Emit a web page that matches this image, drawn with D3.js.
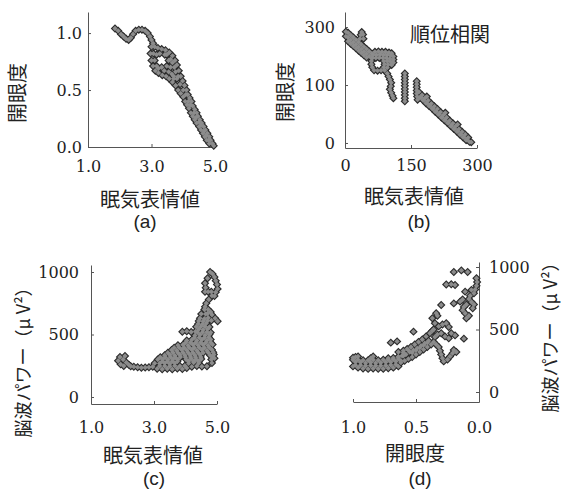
<!DOCTYPE html>
<html>
<head>
<meta charset="utf-8">
<script src="https://cdn.jsdelivr.net/npm/d3@7"></script>
<style>
  body { margin: 0; background: #fff; }
  svg text { fill: #222; }
  .tick text { font-family: "DejaVu Serif", serif; font-size: 16px; }
  .jp { font-family: "Noto Sans CJK JP", sans-serif; font-size: 20px; }
  .cap { font-family: "Liberation Sans", Arial, sans-serif; font-size: 19px; }
  .axis path, .axis line { stroke: #555; }
</style>
</head>
<body>
<svg id="chart" width="564" height="494"></svg>
<script>
// (a) 眠気表情値 vs 開眼度
const aPoints = [
  [1.85,1.04],[1.95,1.02],[2.04,0.99],[2.12,0.97],[2.2,0.95],[2.28,0.94],[2.35,0.96],[2.42,0.99],
  [2.5,1.02],[2.6,1.03],[2.7,1.03],[2.8,1.02],[2.88,1.0],[2.95,0.97],[3.0,0.94],[3.05,0.91],
  [3.0,0.88],[3.1,0.88],[3.2,0.87],[3.32,0.86],[3.44,0.85],[3.56,0.83],[3.66,0.8],[3.74,0.76],
  [3.8,0.72],[3.86,0.67],[2.97,0.82],[3.0,0.76],[3.05,0.71],[3.12,0.67],[3.22,0.65],[3.34,0.63],
  [3.46,0.62],[3.1,0.76],[3.16,0.81],[3.48,0.81],[3.16,0.71],[3.48,0.71],[3.32,0.7],[3.54,0.76],
  [3.6,0.7],[3.72,0.7],[3.64,0.64],
  [3.06,0.82],[3.26,0.82],[3.42,0.81],[3.6,0.77],[3.66,0.74],[3.22,0.69],[3.4,0.67],[3.54,0.66],
  [3.76,0.66],[3.7,0.6],[3.84,0.62],
  [3.92,0.62],[3.98,0.58],[4.04,0.54],[4.1,0.5],[4.14,0.46],[4.2,0.43],[4.26,0.4],[4.3,0.36],
  [4.36,0.33],[4.42,0.3],[4.46,0.27],[4.52,0.24],[4.58,0.21],[4.64,0.18],[4.7,0.15],[4.76,0.12],
  [4.82,0.09],[4.86,0.06],[4.92,0.03],[4.96,0.01],
  [3.56,0.6],[3.66,0.57],[3.76,0.54],[3.84,0.5],[3.92,0.47],[4.0,0.44],[4.06,0.4],[4.12,0.37],
  [4.18,0.34],[4.24,0.3],[4.3,0.27],[4.36,0.24],[4.42,0.21],[4.5,0.18],[4.56,0.15],[4.62,0.12],
  [4.68,0.09],[4.74,0.06],[4.82,0.03],
  [3.8,0.6],[4.0,0.5],[4.16,0.4],[4.34,0.3],[4.5,0.22],[4.66,0.14],[4.8,0.06],
  [3.7,0.62],[3.9,0.55],[4.08,0.46],[4.22,0.37],[4.4,0.26],[4.56,0.19],[4.72,0.1]
];

// (b) 順位相関
const bPoints = [
  [2,288],[2,276],[7,285],[7,273],[7,263],[13,279],[13,267],[13,257],[19,273],[19,261],[19,251],
  [25,267],[25,255],[25,245],[31,261],[31,249],[31,239],[37,255],[37,243],[37,233],[43,249],
  [43,237],[43,227],[49,243],[49,231],[49,221],[55,237],[55,225],[61,231],[61,219],
  [34,270],[36,280],[38,287],[41,281],[42,270],
  [68,236],[76,237],[84,236],[92,236],[100,234],[106,232],
  [64,228],[72,228],[80,229],[88,228],[96,228],[104,226],[110,224],
  [62,220],[70,220],[78,220],[86,220],[94,220],[102,218],[110,216],
  [60,212],[88,212],[96,212],[104,210],[110,208],
  [60,204],[90,204],[98,203],[106,202],
  [62,196],[88,196],[96,195],
  [66,188],[74,187],[82,188],[90,188],
  [96,180],[99,172],[102,164],[105,156],[104,147],[102,139],[105,130],[108,122],[110,116],
  [136,108],[136,116],[136,124],[136,132],[136,140],[136,148],[136,156],[136,164],[136,172],[136,180],
  [163,160],[163,152],[163,144],[163,136],[163,128],[164,120],[165,112],
  [168,132],[170,118],[175,124],[177,111],[182,117],[184,103],[189,110],[191,96],[196,102],[198,89],
  [203,95],[205,81],[210,88],[212,74],[217,80],[219,66],[224,73],[226,59],[231,66],[233,52],
  [238,58],[240,44],[245,51],[247,37],[252,44],[254,30],[259,36],[261,22],[266,29],[268,15],
  [273,22],[275,8],[280,14],[283,3],[287,2],[186,120],[228,78],[256,48],
  [172,118],[179,110],[186,103],[193,96],[200,88],[207,81],[214,74],[221,66],[228,59],[235,52],
  [242,44],[249,37],[256,30],[263,22],[270,15],[277,8]
];

// (c) 眠気表情値 vs 脳波パワー
const cPoints = [
  [1.86,290],[1.92,320],[1.94,262],[2.02,300],[2.08,328],[2.04,248],[2.12,276],[2.2,258],[2.26,246],
  [2.36,242],[2.48,238],[2.6,234],[2.72,236],[2.84,238],[2.96,242],
  [3.1,226],[3.26,222],[3.42,226],[3.58,222],[3.74,228],[3.9,224],[4.04,232],
  [4.2,242],[4.36,248],[4.52,244],[4.68,246],
  [3.02,270],[3.18,268],[3.34,272],[3.5,266],[3.66,272],[4.1,270],[4.26,276],[4.42,272],[4.84,272],
  [3.12,300],[3.28,304],[3.44,298],[3.6,304],[3.76,300],[4.02,300],[4.18,306],[4.34,300],[4.5,304],
  [4.82,300],[4.92,310],
  [3.34,334],[3.5,338],[3.66,332],[3.82,338],[3.98,334],[4.14,338],[4.3,334],[4.46,338],[4.78,334],[4.9,340],
  [3.56,376],[3.72,372],[3.88,378],[4.04,374],[4.2,378],[4.36,372],[4.52,378],[4.68,372],[4.84,378],
  [3.76,414],[3.92,418],[4.08,412],[4.24,418],[4.4,414],[4.56,418],[4.72,412],[4.86,420],
  [4.04,452],[4.2,458],[4.36,452],[4.52,458],[4.68,452],[4.8,460],
  [3.9,522],[4.04,526],[4.18,520],[4.32,524],
  [4.3,492],[4.46,498],[4.62,494],[4.76,500],
  [4.42,542],[4.56,538],[4.7,544],
  [4.4,585],[4.54,582],[4.66,590],
  [4.46,630],[4.6,626],[4.72,634],[4.84,658],[4.94,630],[5.02,606],
  [4.6,700],[4.72,700],[4.8,680],[4.66,750],[4.62,722],[4.74,780],[4.84,810],[4.92,808],
  [4.62,842],[4.72,842],[4.82,842],[4.64,875],[4.62,910],[4.7,950],[4.78,1000],[4.86,985],
  [4.92,960],[4.96,930],[5.0,900],[5.02,865],[4.96,838],
  [3.18,248],[3.34,248],[3.5,246],[3.66,250],[3.82,248],[3.98,250],
  [3.26,285],[3.42,284],[3.58,286],[3.74,284],[4.1,288],[4.26,286],[4.42,288],
  [3.2,318],[3.36,318],[3.52,320],[3.68,316],[3.84,320],[4.0,318],[4.16,320],[4.32,318],[4.48,320],[4.86,318],
  [3.44,355],[3.6,356],[3.76,354],[3.92,356],[4.08,356],[4.24,354],[4.4,356],[4.56,354],[4.72,356],[4.88,358],
  [3.64,395],[3.8,396],[3.96,394],[4.12,396],[4.28,394],[4.44,396],[4.6,394],[4.76,396],
  [4.0,435],[4.16,436],[4.32,434],[4.48,436],[4.64,434],[4.8,436],
  [4.28,475],[4.44,476],[4.6,474],[4.74,478],
  [4.38,518],[4.54,518],[4.68,520],[4.8,516],
  [4.34,562],[4.48,562],[4.62,564],[4.76,560],
  [4.42,608],[4.56,606],[4.7,610],[4.82,612],
  [4.5,665],[4.64,664],[4.7,668]
];

// (d) 開眼度 vs 脳波パワー
const dPoints = [
  [1.0,205],[0.96,195],[0.92,188],[0.88,185],[0.84,188],[0.8,186],[0.76,186],[0.72,190],[0.68,195],[0.64,205],
  [0.98,240],[0.94,238],[0.9,232],[0.86,236],[0.82,232],[0.78,234],[0.74,238],[0.7,240],[0.66,245],[0.62,250],
  [1.0,275],[0.96,285],[0.86,270],[0.84,285],[0.72,270],[0.68,272],[0.64,282],[0.6,290],[0.98,280],
  [0.98,215],[0.94,214],[0.9,210],[0.86,212],[0.82,210],[0.78,210],[0.74,212],[0.7,216],[0.66,220],
  [1.0,258],[0.96,258],[0.92,255],[0.88,255],[0.84,258],[0.8,255],[0.76,258],[0.72,258],[0.68,262],[0.64,265],
  [0.62,235],[0.59,250],[0.56,265],[0.53,280],[0.5,300],[0.47,320],[0.44,340],[0.41,360],[0.38,380],
  [0.64,280],[0.61,290],[0.58,300],[0.55,320],[0.52,335],[0.49,350],[0.46,370],[0.43,390],[0.4,410],
  [0.64,320],[0.6,330],[0.57,345],[0.54,360],[0.51,380],[0.48,400],[0.45,420],[0.42,445],[0.39,470],[0.37,490],
  [0.6,315],[0.56,335],[0.53,315],[0.5,335],[0.47,355],[0.44,375],[0.41,395],
  [0.36,400],[0.34,380],[0.32,360],[0.31,330],[0.3,300],[0.29,270],[0.28,245],[0.25,260],[0.23,285],
  [0.21,310],[0.2,336],[0.18,320],[0.35,440],[0.33,460],[0.3,470],[0.27,445],[0.24,430],[0.22,470],
  [0.19,453],[0.12,427],[0.36,500],[0.35,550],[0.32,525],[0.29,540],[0.26,550],[0.24,520],[0.37,590],
  [0.34,630],[0.33,610],
  [0.3,696],[0.26,860],[0.22,862],[0.19,856],[0.2,960],[0.14,973],[0.09,960],[0.2,709],[0.15,723],
  [0.13,740],[0.11,803],[0.06,816],[0.02,910],[0.015,880],[0.02,850],[0.03,820],[0.04,790],[0.07,770],
  [0.08,745],[0.06,720],[0.1,700],[0.12,680],[0.13,655],[0.11,630],[0.08,610],[0.1,590],[0.04,700],[0.05,670],
  [0.52,483],[0.7,395],[0.65,405]
];

const aXTicks = [1, 3, 5], aXLabels = ["1.0", "3.0", "5.0"];
const aYTicks = [0, 0.5, 1], aYLabels = ["0.0", "0.5", "1.0"];
const bXTicks = [0, 150, 300], bXLabels = ["0", "150", "300"];
const bYTicks = [0, 150, 300], bYLabels = ["0", "100", "300"];
const cXTicks = [1, 3, 5], cXLabels = ["1.0", "3.0", "5.0"];
const cYTicks = [0, 500, 1000], cYLabels = ["0", "500", "1000"];
const dXTicks = [1, 0.5, 0], dXLabels = ["1.0", "0.5", "0.0"];
const dYTicks = [0, 500, 1000], dYLabels = ["0", "500", "1000"];

const svg = d3.select('#chart');

const panels = [
  { pts: aPoints, xd: [1, 5], xr: [88, 215], yd: [0, 1.185], yr: [147, 12],
    xt: aXTicks, xl: aXLabels, yt: aYTicks, yl: aYLabels, side: 'left', xPad: 14, yPad: 6 },
  { pts: bPoints, xd: [0, 300], xr: [345, 477], yd: [-13, 339], yr: [148, 12],
    xt: bXTicks, xl: bXLabels, yt: bYTicks, yl: bYLabels, side: 'left', xPad: 12, yPad: 10 },
  { pts: cPoints, xd: [1, 5], xr: [91, 217], yd: [-56, 1056], yr: [404, 265],
    xt: cXTicks, xl: cXLabels, yt: cYTicks, yl: cYLabels, side: 'left', xPad: 18, yPad: 12 },
  { pts: dPoints, xd: [1, 0], xr: [353, 479], yd: [-80, 1040], yr: [402, 262],
    xt: dXTicks, xl: dXLabels, yt: dYTicks, yl: dYLabels, side: 'right', xPad: 20, yPad: 10 }
];

const outer = d3.symbol().type(d3.symbolSquare).size(36);
const inner = d3.symbol().type(d3.symbolSquare).size(14);

panels.forEach(p => {
  let x = d3.scaleLinear().domain(p.xd).range(p.xr);
  let y = d3.scaleLinear().domain(p.yd).range(p.yr);

  let xAxis = d3.axisBottom(x)
                .tickValues(p.xt)
                .tickFormat((d, i) => p.xl[i])
                .tickSizeInner(-3).tickSizeOuter(0)
                .tickPadding(p.xPad);
  let yAxis = (p.side === 'left' ? d3.axisLeft(y) : d3.axisRight(y))
                .tickValues(p.yt)
                .tickFormat((d, i) => p.yl[i])
                .tickSizeInner(-3).tickSizeOuter(0)
                .tickPadding(p.yPad);

  svg.append('g')
     .attr('class', 'axis')
     .attr('transform', `translate(0,${p.yr[0]})`)
     .call(xAxis);
  svg.append('g')
     .attr('class', 'axis')
     .attr('transform', `translate(${p.side === 'left' ? p.xr[0] : p.xr[1]},0)`)
     .call(yAxis);

  // dark outline layer, then grey fill layer
  let g = svg.append('g');
  g.selectAll('.o').data(p.pts).join('path')
   .attr('d', outer)
   .attr('fill', '#2a2a2a')
   .attr('transform', d => `translate(${x(d[0])},${y(d[1])}) rotate(45)`);
  g.selectAll('.i').data(p.pts).join('path')
   .attr('d', inner)
   .attr('fill', '#8c8c8c')
   .attr('transform', d => `translate(${x(d[0])},${y(d[1])}) rotate(45)`);
});

// Texts
function label(txt, cx, cy, cls, rot, size) {
  let t = svg.append('text')
     .attr('class', cls)
     .attr('text-anchor', 'middle')
     .attr('dominant-baseline', 'central')
     .attr('transform', `translate(${cx},${cy})` + (rot ? ` rotate(${rot})` : ''))
     .text(txt);
  if (size) t.style('font-size', size);
}

label('眠気表情値', 150, 198, 'jp');
label('眠気表情値', 414, 195, 'jp');
label('眠気表情値', 153, 454, 'jp');
label('開眼度', 415, 452, 'jp');
label('開眼度', 16, 93, 'jp', -90);
label('開眼度', 284, 92, 'jp', -90);
label('順位相関', 450, 33, 'jp');
label('脳波パワー（μ V²）', 22, 358, 'jp', -90, '18px');
label('脳波パワー（μ V²）', 549, 333, 'jp', -90, '18px');

label('(a)', 145, 221, 'cap');
label('(b)', 419, 221, 'cap');
label('(c)', 154, 478, 'cap');
label('(d)', 420, 478, 'cap');
</script>
</body>
</html>
